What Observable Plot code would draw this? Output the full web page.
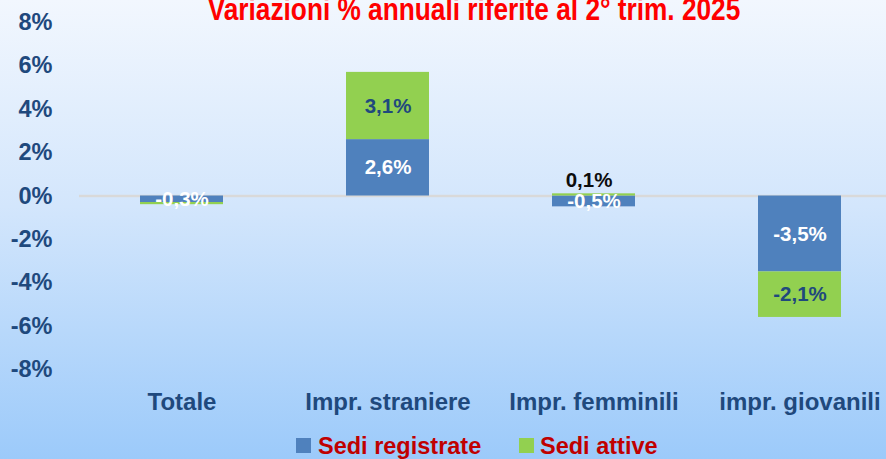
<!DOCTYPE html>
<html>
<head>
<meta charset="utf-8">
<script src="https://cdn.jsdelivr.net/npm/d3@7"></script>
<script src="https://cdn.jsdelivr.net/npm/@observablehq/plot@0.6"></script>
<style>
  html, body { margin: 0; padding: 0; }
  body { font-family: "Liberation Sans", Arial, sans-serif; }
  #wrap {
    position: relative; width: 886px; height: 459px; overflow: hidden;
    background: linear-gradient(to bottom, #f2f7fe 0%, #d3e6fc 45%, #9ccafa 100%);
  }
  #chart { position: absolute; left: 0; top: 0; }
  #title {
    position: absolute; left: 474px; top: -7px; white-space: nowrap;
    font: bold 32px/1 "Liberation Sans", Arial, sans-serif; color: #ff0000;
    transform: translateX(-50%) scaleX(0.82); transform-origin: center;
  }
  .lg { position: absolute; top: 435px; font: bold 23.5px/1 "Liberation Sans", Arial, sans-serif; color: #c00000; white-space: nowrap; }
  .sw { position: absolute; top: 438px; width: 15px; height: 15px; }
</style>
</head>
<body>
<div id="wrap">
  <div id="chart"></div>
  <div id="title">Variazioni % annuali riferite al 2° trim. 2025</div>
  <div id="legend"></div>
</div>
<script>
const categories = ["Totale", "Impr. straniere", "Impr. femminili", "impr. giovanili"];
const series = ["Sedi registrate", "Sedi attive"];
const sediRegistrate = [-0.3, 2.6, -0.5, -3.5];
const sediAttive = [-0.1, 3.1, 0.1, -2.1];
const colors = ["#4f81bd", "#92d050"];
const labelColors = ["#ffffff", "#1f497d"];
const yTicks = [-8, -6, -4, -2, 0, 2, 4, 6, 8];

const rows = [];
categories.forEach((c, i) => {
  rows.push({cat: c, series: series[0], v: sediRegistrate[i]});
  rows.push({cat: c, series: series[1], v: sediAttive[i]});
});
const fmt = v => d3.format(".1f")(v).replace("\u2212", "-").replace(".", ",") + "%";

const plot = Plot.plot({
  width: 886,
  height: 459,
  marginTop: 22,
  marginBottom: 90,
  marginLeft: 79,
  marginRight: 0,
  style: {background: "transparent", fontFamily: "'Liberation Sans', Arial, sans-serif"},
  x: {domain: categories, paddingInner: 0.597, paddingOuter: 0.257, align: 0.571, label: null},
  y: {domain: [-8, 8], label: null},
  color: {domain: series, range: colors},
  marks: [
    Plot.ruleY([0], {stroke: "#d9d9d9", strokeWidth: 2.5}),
    Plot.barY(rows, {x: "cat", y: "v", fill: "series", z: "series", order: series}),
    Plot.text(rows, Plot.stackY({
      filter: d => Math.abs(d.v) >= 0.3,
      x: "cat", y: "v", z: "series", order: series,
      text: d => fmt(d.v),
      fill: d => labelColors[series.indexOf(d.series)],
      fontSize: 20.5, fontWeight: "bold"
    })),
    Plot.text(rows, Plot.stackY2({
      filter: d => d.v > 0 && d.v < 0.3,
      x: "cat", y: "v", z: "series", order: series,
      text: d => fmt(d.v),
      fill: "#0d0d0d", dy: -13, dx: -5,
      fontSize: 20.5, fontWeight: "bold"
    })),
    Plot.axisY({ticks: yTicks, tickFormat: d => d + "%", tickSize: 0, tickPadding: 27,
      fontSize: 23.5, fontWeight: "bold", color: "#1f497d"}),
    Plot.axisX({tickSize: 0, tickPadding: 23, fontSize: 24, fontWeight: "bold", color: "#1f497d"})
  ]
});
document.getElementById("chart").appendChild(plot);

const legend = document.getElementById("legend");
const swLeft = [296, 519];
const txtLeft = [318, 540];
series.forEach((s, i) => {
  const sw = document.createElement("div");
  sw.className = "sw"; sw.style.left = swLeft[i] + "px"; sw.style.background = colors[i];
  legend.appendChild(sw);
  const t = document.createElement("div");
  t.className = "lg"; t.style.left = txtLeft[i] + "px"; t.textContent = s;
  legend.appendChild(t);
});
</script>
</body>
</html>
